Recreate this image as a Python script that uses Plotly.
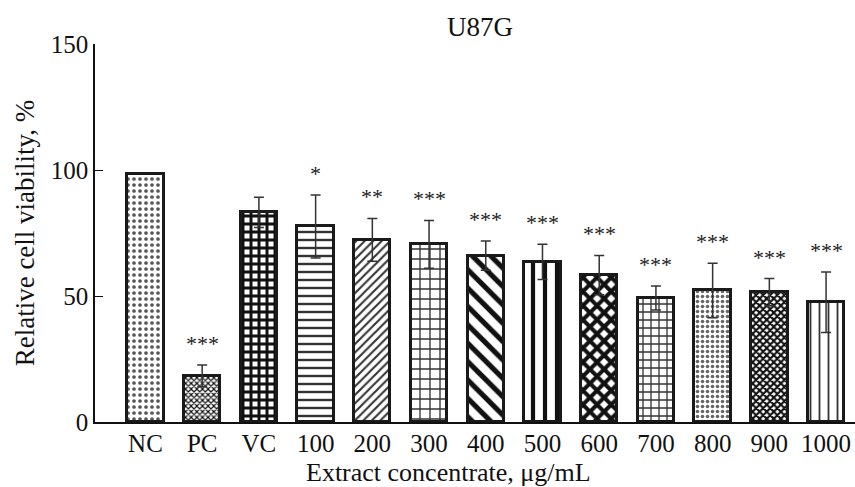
import plotly.graph_objects as go

categories = ["NC", "PC", "VC", "100", "200", "300", "400", "500", "600", "700", "800", "900", "1000"]
viability = [98.5, 18.3, 83.2, 77.6, 72.3, 70.5, 66.0, 63.5, 58.3, 49.2, 52.2, 51.5, 47.5]
errors = [0, 4.3, 6.0, 12.5, 8.5, 9.5, 5.8, 7.0, 7.8, 4.8, 10.8, 5.4, 12.0]
significance = ["", "***", "", "*", "**", "***", "***", "***", "***", "***", "***", "***", "***"]

patterns = [
    dict(shape=".", size=6, solidity=0.3, fgcolor="#555555"),
    dict(shape="x", size=4, solidity=0.5, fgcolor="#111111"),
    dict(shape="+", size=8, solidity=0.6, fgcolor="#111111"),
    dict(shape="-", size=8, solidity=0.3, fgcolor="#333333"),
    dict(shape="/", size=6, solidity=0.35, fgcolor="#333333"),
    dict(shape="+", size=10, solidity=0.25, fgcolor="#333333"),
    dict(shape="\\", size=13, solidity=0.4, fgcolor="#111111"),
    dict(shape="|", size=12, solidity=0.35, fgcolor="#111111"),
    dict(shape="x", size=10, solidity=0.65, fgcolor="#111111"),
    dict(shape="+", size=8, solidity=0.3, fgcolor="#333333"),
    dict(shape=".", size=5, solidity=0.4, fgcolor="#666666"),
    dict(shape="x", size=5, solidity=0.65, fgcolor="#111111"),
    dict(shape="|", size=9, solidity=0.2, fgcolor="#333333"),
]

FONT = "Liberation Serif, Times New Roman, serif"
xs = list(range(len(categories)))

W, H = 855, 487
L, T, B = 95, 44, 65

fig = go.Figure()
for i, (cat, v, e, p) in enumerate(zip(categories, viability, errors, patterns)):
    fig.add_trace(go.Bar(
        x=[i], y=[v], width=0.64,
        marker=dict(color="white", line=dict(color="#1a1a1a", width=3),
                    pattern=dict(fillmode="overlay", fgopacity=1, **p)),
        error_y=dict(type="data", array=[e], visible=e > 0, color="#333333",
                     thickness=1.5, width=5),
        showlegend=False, name=cat,
    ))

for i, (v, e, s) in enumerate(zip(viability, errors, significance)):
    if s:
        fig.add_annotation(x=i, y=v + e, text=s, showarrow=False,
                           yanchor="bottom", yshift=7,
                           font=dict(family=FONT, size=22, color="#222222"))

fig.add_annotation(xref="paper", yref="paper", x=(448 - L) / (W - L), y=-(472 - (H - B)) / (H - T - B),
                   text="Extract concentrate, μg/mL", showarrow=False,
                   yanchor="middle", font=dict(family=FONT, size=26, color="#111111"))

fig.update_layout(
    width=W, height=H,
    margin=dict(l=L, r=0, t=T, b=B, autoexpand=False),
    paper_bgcolor="white", plot_bgcolor="white",
    font=dict(family=FONT, size=25, color="#111111"),
    title=dict(text="U87G", x=480 / W, xanchor="center", y=1 - 27 / H, yanchor="middle",
               font=dict(family=FONT, size=27, color="#111111")),
    bargap=0,
    xaxis=dict(tickvals=xs, ticktext=categories, range=[-0.89, 12.51], automargin=False,
               showline=True, linecolor="#111111", linewidth=1.5, ticks="",
               showgrid=False, zeroline=False, ticklabelstandoff=-2),
    yaxis=dict(range=[0, 150], tickvals=[0, 50, 100, 150], showline=True, automargin=False,
               linecolor="#111111", linewidth=1.5, ticks="inside", ticklen=8,
               tickcolor="#111111", showgrid=False, zeroline=False,
               title=dict(text="Relative cell viability, %", standoff=8,
                          font=dict(family=FONT, size=27, color="#111111"))),
)

fig.write_html("out.html", config={"displayModeBar": False},
               post_script="document.body.style.margin='0';document.body.style.overflow='hidden';")
